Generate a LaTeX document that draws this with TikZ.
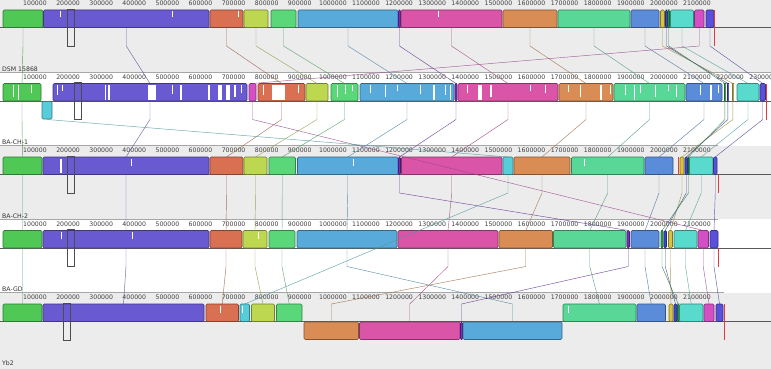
\documentclass[tikz,border=0pt]{standalone}
\usepackage{fontspec}
\setsansfont{DejaVu Sans}
\usetikzlibrary{calc}
\definecolor{panelgray}{RGB}{236,236,236}
\definecolor{redmark}{RGB}{225,60,60}
\definecolor{lcbG}{RGB}{80,200,85}
\definecolor{lcbP}{RGB}{106,90,210}
\definecolor{lcbOR}{RGB}{218,112,82}
\definecolor{lcbYG}{RGB}{190,215,80}
\definecolor{lcbGR}{RGB}{90,215,120}
\definecolor{lcbBL}{RGB}{88,170,218}
\definecolor{lcbSP}{RGB}{120,45,195}
\definecolor{lcbPK}{RGB}{218,85,168}
\definecolor{lcbORB}{RGB}{218,140,85}
\definecolor{lcbMG}{RGB}{88,215,150}
\definecolor{lcbBB}{RGB}{90,140,218}
\definecolor{lcbY}{RGB}{215,195,65}
\definecolor{lcbSB}{RGB}{60,70,210}
\definecolor{lcbSG}{RGB}{40,170,70}
\definecolor{lcbCY}{RGB}{88,218,205}
\definecolor{lcbPKB}{RGB}{210,80,195}
\definecolor{lcbPU}{RGB}{90,80,218}
\definecolor{lcbCYB}{RGB}{88,205,218}

\tikzset{
  blk/.style={fill=#1,draw=#1!60!black,line width=0.55pt,rounded corners=1.2pt},
  lnk/.style={draw=#1!75!black!85!gray,line width=0.45pt,draw opacity=0.85,line join=round},
  selbox/.style={draw=black!70,line width=0.6pt},
  axisln/.style={draw=black!65,line width=0.8pt},
  rulerln/.style={draw=black!35,line width=0.8pt},
  ticklbl/.style={font=\sffamily\fontsize{6.2}{7}\selectfont,text=black!75,inner sep=0pt},
  gname/.style={font=\sffamily\fontsize{6.2}{7}\selectfont,text=black!80,inner sep=0pt,anchor=base west},
  redln/.style={draw=redmark,line width=0.6pt},
}

% block above the centre line of genome #1
\newcommand{\blkup}[4]{%
  \pgfmathsetmacro\pbase{73.5*(#1-1)}%
  \pgfmathsetmacro\pmid{(#3+#4)/2}%
  \filldraw[blk=#2] (#3,\pbase+10) rectangle (#4,\pbase+27.5);
  \coordinate (g#1-#2-t) at (\pmid,\pbase+10);
  \coordinate (g#1-#2-e) at (\pmid,\pbase+10);
  \coordinate (g#1-#2-s) at (\pmid,\pbase+27.5);
  \coordinate (g#1-#2-l) at (\pmid,\pbase+46);
}
% inverted block, below the centre line
\newcommand{\blkdn}[4]{%
  \pgfmathsetmacro\pbase{73.5*(#1-1)}%
  \pgfmathsetmacro\pmid{(#3+#4)/2}%
  \filldraw[blk=#2] (#3,\pbase+28) rectangle (#4,\pbase+45.5);
  \coordinate (g#1-#2-t) at (\pmid,\pbase+10);
  \coordinate (g#1-#2-e) at (\pmid,\pbase+27.5);
  \coordinate (g#1-#2-s) at (\pmid,\pbase+46);
  \coordinate (g#1-#2-l) at (\pmid,\pbase+46);
}

\begin{document}
\begin{tikzpicture}[x=1pt,y=-1pt]
  \clip (0,0) rectangle (771,369);
  \fill[white] (0,0) rectangle (771,369);
  \fill[panelgray] (0,0) rectangle (771,72);
  \fill[panelgray] (0,145.5) rectangle (771,219);
  \fill[panelgray] (0,292.5) rectangle (771,369);
  \draw[rulerln] (0,72) -- (771,72);
  \draw[rulerln] (0,145.5) -- (718,145.5);
  \draw[rulerln] (0,219) -- (718,219);
  \draw[rulerln] (0,292.5) -- (724,292.5);
  \foreach \p in {1,...,5}
    \draw[axisln] (0,{73.5*(\p-1)+27.5}) -- (771,{73.5*(\p-1)+27.5});

  % ruler labels
  \foreach \p/\m in {1/21,2/23,3/21,4/21,5/21}
    \foreach \n in {1,...,\m}
      \node[ticklbl] (t\p-\n) at ({1.9+33.1*\n},{73.5*(\p-1)+3.3}) {\n00000};

  % genome names
  \node[gname] (n1) at (2,71) {DSM 15868};
  \node[gname] (n2) at (2,144.5) {BA-CH-1};
  \node[gname] (n3) at (2,218) {BA-CH-2};
  \node[gname] (n4) at (2,291.5) {BA-GD};
  \node[gname] (n5) at (2,365) {Yb2};

  % DSM 15868
  \blkup{1}{lcbG}{3}{43}
  \blkup{1}{lcbP}{43.5}{209}
  \blkup{1}{lcbOR}{210}{243}
  \blkup{1}{lcbYG}{244}{268}
  \blkup{1}{lcbGR}{271}{296}
  \blkup{1}{lcbBL}{298}{398}
  \blkup{1}{lcbSP}{398.5}{400.5}
  \blkup{1}{lcbPK}{401}{502}
  \blkup{1}{lcbORB}{503}{557}
  \blkup{1}{lcbMG}{558}{630}
  \blkup{1}{lcbBB}{631}{659}
  \blkup{1}{lcbY}{660.5}{664.5}
  \blkup{1}{lcbSB}{665.5}{667.5}
  \blkup{1}{lcbSG}{668}{669.5}
  \blkup{1}{lcbCY}{670.5}{693.5}
  \blkup{1}{lcbPKB}{694.5}{704}
  \blkup{1}{lcbPU}{706}{714}
  \foreach \a/\w in {60/0.8,172/0.6,238/0.5,438/0.6}
    \fill[white] (\a,11.5) rectangle ++(\w,6);

  % BA-CH-1
  \blkup{2}{lcbG}{3}{41}
  \blkdn{2}{lcbCYB}{42}{52}
  \blkup{2}{lcbP}{53}{247}
  \blkup{2}{lcbPKB}{249}{256}
  \blkup{2}{lcbOR}{258}{305}
  \blkup{2}{lcbYG}{306}{328}
  \blkup{2}{lcbGR}{331}{358}
  \blkup{2}{lcbBL}{360}{454}
  \blkup{2}{lcbSP}{455}{457}
  \blkup{2}{lcbPK}{458}{558}
  \blkup{2}{lcbORB}{559}{613}
  \blkup{2}{lcbMG}{614}{685}
  \blkup{2}{lcbBB}{686}{722}
  \fill[white] (722.5,83.5) rectangle (736,101);
  \blkup{2}{lcbSG}{724.5}{725.3}
  \blkup{2}{lcbSB}{727.5}{728.3}
  \blkup{2}{lcbY}{732.5}{733.3}
  \blkup{2}{lcbCY}{737}{759}
  \blkup{2}{lcbPU}{760}{765.5}
  \foreach \a/\w/\h in {13/1/12,18/1.2/15,31/1/8,57/1/10,62/1/6,105/1/15,108/1.5/15,148/8/15,172/1/9,180/2/15,
      208/2/15,218/4/15,226/4/15,234/2/12,241/1/8,263/1/10,272/13/15,298/1/8,337/1/12,345/1/9,352/1/6,
      370/1/8,385/1/12,397/1/6,420/1/9,433/2/15,445/1/10,450/1/15,467/1/8,478/4/15,490/2/12,530/1/6,545/1/8,
      568/1/7,580/1/12,600/2/15,610/1/9,625/1/10,634/1/15,640/1/8,655/1/12,668/1/6,676/1/12,700/1/10,710/2/15,718/1/8}
    \fill[white] (\a,85) rectangle ++(\w,\h);

  % BA-CH-2
  \blkup{3}{lcbG}{3}{42}
  \blkup{3}{lcbP}{43}{209}
  \blkup{3}{lcbOR}{210}{243}
  \blkup{3}{lcbYG}{244}{267}
  \blkup{3}{lcbGR}{269}{295.5}
  \blkup{3}{lcbBL}{297.5}{398}
  \blkup{3}{lcbSP}{398.5}{400.5}
  \blkup{3}{lcbPK}{401.5}{502}
  \blkup{3}{lcbCYB}{503}{513}
  \blkup{3}{lcbORB}{514}{570}
  \blkup{3}{lcbMG}{571.5}{644}
  \blkup{3}{lcbBB}{645}{673}
  \fill[redmark] (677.5,157) rectangle (678.5,174.5);
  \blkup{3}{lcbY}{680}{684}
  \blkup{3}{lcbSB}{685}{687.5}
  \blkup{3}{lcbSG}{688}{689}
  \blkup{3}{lcbCY}{689.5}{713}
  \blkup{3}{lcbPU}{713.5}{717}
  \fill[white] (59.5,159) rectangle ++(2,14);
  \foreach \a/\w in {131/0.6,353/0.6,584/0.6}
    \fill[white] (\a,158.5) rectangle ++(\w,7);

  % BA-GD
  \blkup{4}{lcbG}{3}{42}
  \blkup{4}{lcbP}{43}{209}
  \blkup{4}{lcbOR}{210}{242}
  \blkup{4}{lcbYG}{243}{267}
  \blkup{4}{lcbGR}{269}{295}
  \blkup{4}{lcbBL}{297}{397}
  \blkup{4}{lcbPK}{398}{498}
  \blkup{4}{lcbORB}{499}{552.5}
  \blkup{4}{lcbMG}{553.5}{626}
  \blkup{4}{lcbSP}{627}{629.5}
  \blkup{4}{lcbBB}{631}{659}
  \blkup{4}{lcbSG}{661}{663}
  \blkup{4}{lcbSB}{664}{666.5}
  \blkup{4}{lcbY}{668.5}{672.5}
  \blkup{4}{lcbCY}{674}{697}
  \blkup{4}{lcbPKB}{698}{708.5}
  \blkup{4}{lcbPU}{710}{718}
  \foreach \a/\w in {61/0.8,132/0.6,258/0.6}
    \fill[white] (\a,232) rectangle ++(\w,7);

  % Yb2
  \blkup{5}{lcbG}{3}{42}
  \blkup{5}{lcbP}{43}{204}
  \blkup{5}{lcbOR}{206}{238.5}
  \blkup{5}{lcbCYB}{240}{249.5}
  \blkup{5}{lcbYG}{251.5}{274.5}
  \blkup{5}{lcbGR}{276.5}{302}
  \blkdn{5}{lcbORB}{304}{358.5}
  \blkdn{5}{lcbPK}{359.5}{460}
  \blkdn{5}{lcbSP}{460.5}{462.5}
  \blkdn{5}{lcbBL}{463}{562}
  \blkup{5}{lcbMG}{563}{636}
  \blkup{5}{lcbBB}{637}{665.5}
  \blkup{5}{lcbY}{669}{673}
  \blkup{5}{lcbSB}{674}{677}
  \blkup{5}{lcbSG}{677.5}{679}
  \blkup{5}{lcbCY}{679.5}{703}
  \blkup{5}{lcbPKB}{704}{714}
  \blkup{5}{lcbPU}{716}{723}
  \foreach \a/\w in {220/0.6,242/0.8,568/0.6}
    \fill[white] (\a,305.5) rectangle ++(\w,7);

  % connecting lines
  \foreach \k in {lcbG,lcbP,lcbOR,lcbYG,lcbGR,lcbBL,lcbSP,lcbPK,lcbORB,lcbMG,lcbBB,lcbY,lcbSB,lcbSG,lcbCY,lcbPU}
    \draw[lnk=\k] (g1-\k-s) -- (g1-\k-l) -- (g2-\k-t) -- (g2-\k-e)
                  (g2-\k-s) -- (g2-\k-l) -- (g3-\k-t) -- (g3-\k-e)
                  (g3-\k-s) -- (g3-\k-l) -- (g4-\k-t) -- (g4-\k-e)
                  (g4-\k-s) -- (g4-\k-l) -- (g5-\k-t) -- (g5-\k-e);
  \draw[lnk=lcbPKB] (g1-lcbPKB-s) -- (g1-lcbPKB-l) -- (g2-lcbPKB-t)
                    (g2-lcbPKB-s) -- (g2-lcbPKB-l) -- (g4-lcbPKB-t)
                    (g4-lcbPKB-s) -- (g4-lcbPKB-l) -- (g5-lcbPKB-t);
  \draw[lnk=lcbCYB] (g2-lcbCYB-s) -- (g3-lcbCYB-t)
                    (g3-lcbCYB-s) -- (g3-lcbCYB-l) -- (g5-lcbCYB-t);

  % end marks
  \draw[redln] (714.5,10) -- (714.5,46);
  \draw[redln] (765.8,83.5) -- (765.8,119.5);
  \draw[redln] (718,175) -- (718,193);
  \draw[redln] (718.5,248) -- (718.5,266.5);
  \draw[redln] (724,304) -- (724,340);

  % selection boxes
  \draw[selbox] (67,9) rectangle (74,46);
  \draw[selbox] (74.5,82.5) rectangle (81,119.5);
  \draw[selbox] (67,156) rectangle (74,193);
  \draw[selbox] (67,229.5) rectangle (74,266.5);
  \draw[selbox] (63.5,303) rectangle (70.5,340);
\end{tikzpicture}
\end{document}
